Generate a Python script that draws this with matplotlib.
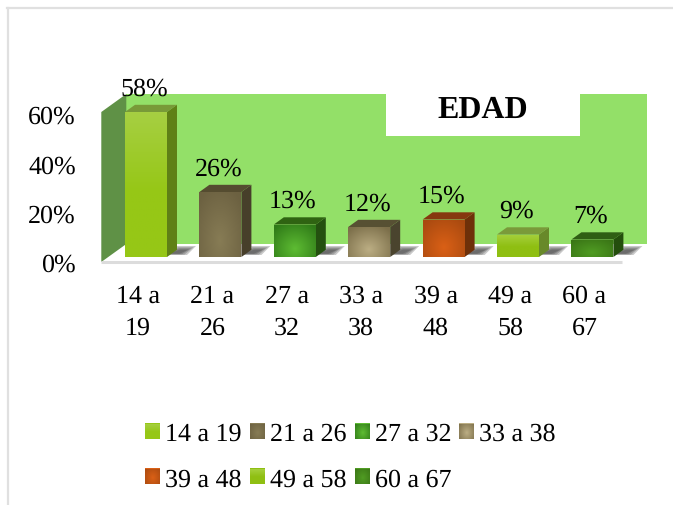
import numpy as np
import matplotlib
matplotlib.use("Agg")
import matplotlib.pyplot as plt
from matplotlib.colors import to_rgb
from matplotlib.lines import Line2D
from matplotlib.patches import Polygon, Rectangle

plt.rcParams['font.family'] = ['Liberation Serif']
plt.rcParams['text.hinting'] = 'none'
plt.rcParams['text.hinting_factor'] = 1

categories = ["14 a 19", "21 a 26", "27 a 32", "33 a 38", "39 a 48", "49 a 58", "60 a 67"]
tick_labels = ["14 a\n19", "21 a\n26", "27 a\n32", "33 a\n38", "39 a\n48", "49 a\n58", "60 a\n67"]
values = [58, 26, 13, 12, 15, 9, 7]
y_ticks = [0, 20, 40, 60]

# gradient colours: centre, edge, side face, top face
centre_colors = ["#96c716", "#877c55", "#5ebc33", "#bcae84", "#da6016", "#8fbf12", "#509c23"]
edge_colors = ["#a6cf42", "#6c6141", "#2f7a18", "#7c6f4a", "#a94a10", "#a6d03e", "#3a7516"]
side_colors = ["#5f8016", "#473f2a", "#245010", "#4a442e", "#6e3009", "#68892a", "#244e0d"]
top_colors = ["#789a38", "#554c30", "#2f6312", "#575033", "#86380f", "#7a9a3a", "#2f5f14"]
is_linear = [True, False, False, False, False, True, False]

W, H = 673, 506
PX_X = 74.4  # pixels per category
PX_Y = 2.5  # pixels per percent


def px(dx, dy):
	return dx / PX_X, dy / PX_Y


def gradient(centre, edge, linear, cy=0.25):
	c = np.array(to_rgb(centre))
	e = np.array(to_rgb(edge))
	yy, xx = np.mgrid[0:1:60j, 0:1:60j]

	if linear:
		t = np.clip((yy - 0.45) / 0.55, 0, 1)
	else:
		t = np.clip(np.hypot((xx - 0.5) / 0.7, (yy - cy) / 0.9), 0, 1)

	return c + (e - c) * t[..., None]


fig = plt.figure(figsize=(W / 100, H / 100), dpi=100, facecolor="white")

ax = fig.add_axes([108.8 / W, (H - 258) / H, 520.8 / W, 150 / H])
ax.axis("off")

# second axes only carries the tick labels, they sit on the front edge of the floor
ax2 = fig.add_axes([100.8 / W, (H - 263) / H, 520.8 / W, 148 / H])
ax2.patch.set_visible(False)
for s in ax2.spines.values():
	s.set_visible(False)
ax2.set_xlim(-0.5, 6.5)
ax2.set_ylim(0, 60)
ax2.set_xticks(range(len(tick_labels)))
ax2.set_xticklabels(tick_labels, fontsize=18.6, linespacing=1.45)
ax2.set_yticks(y_ticks)
ax2.set_yticklabels([f"{t}%" for t in y_ticks], fontsize=18.6)
ax2.tick_params(axis="x", length=0, pad=15.5)
ax2.tick_params(axis="y", length=0, pad=18)

x = np.arange(len(values))
width = 42 / PX_X
xl, xr = -0.5, 6.5
fx, fy = px(-7.5, -5)
bx, by = px(17.5, 13)

# back wall, left wall, floor
ax.add_patch(Polygon([(xl + bx, by), (xr + bx, by), (xr + bx, 60 + by), (xl + bx, 60 + by)],
	fc="#93e068", ec="none", clip_on=False, zorder=1))
ax.add_patch(Polygon([(xl + fx, fy), (xl + bx, by), (xl + bx, 60 + by), (xl + fx, 60 + fy)],
	fc="#5f9146", ec="none", clip_on=False, zorder=1.2))
ax.add_patch(Polygon([(xl + fx, fy), (xr + fx, fy), (xr + bx, by), (xl + bx, by)],
	fc="white", ec="none", clip_on=False, zorder=1.1))
ax.plot([xl + fx, xr + fx], [fy, fy], color="#dcdcdc", lw=2.2, clip_on=False, zorder=1.3, solid_capstyle="butt")

bars = ax.bar(x, values, width=width, color=centre_colors, zorder=3)
dx, dy = px(10, 7.2)

for i, (bar, v) in enumerate(zip(bars, values)):
	x0, x1 = bar.get_x(), bar.get_x() + width

	# floor shadow, a few overlapping layers to get a soft edge
	for k in range(4):
		low_r = px(20 - k * 2.5, 0)[0]
		up_l = px(10 + k, 0)[0]
		up_r = px(29 - k * 2.5, 0)[0]
		y_low = px(0, 2 + k * 0.4)[1]
		y_up = px(0, 11 - k * 1.2)[1]
		ax.add_patch(Polygon([(x1, y_low), (x1 + low_r, y_low), (x1 + up_r, y_up), (x1 + up_l, y_up)],
			fc="#2a2a2a", ec="none", alpha=0.25, clip_on=False, zorder=2))

	ax.add_patch(Polygon([(x1, 0), (x1 + dx, dy), (x1 + dx, v + dy), (x1, v)],
		fc=side_colors[i], ec="none", clip_on=False, zorder=3))
	ax.add_patch(Polygon([(x0, v), (x1, v), (x1 + dx, v + dy), (x0 + dx, v + dy)],
		fc=top_colors[i], ec="none", clip_on=False, zorder=3))

	im = ax.imshow(gradient(centre_colors[i], edge_colors[i], is_linear[i]),
		extent=(x0, x1, 0, v), origin="lower", aspect="auto", zorder=3.5, interpolation="bilinear")
	im.set_clip_path(bar)

	ax.text(i - 0.027, v + 7, f"{v}%", ha="center", va="baseline", fontsize=18.6, color="black", zorder=5)

ax.set_xlim(-0.5, 6.5)
ax.set_ylim(0, 60)

# title sits in a white box cut out of the back wall
fig.add_artist(Rectangle((386 / W, (H - 137) / H), 194 / W, 47 / H, transform=fig.transFigure, fc="white", ec="none", zorder=2))
fig.text(483 / W, (H - 118) / H, "EDAD", ha="center", va="baseline", fontsize=22.9, fontweight="bold", zorder=3)

# page border
fig.add_artist(Line2D([8 / W, 8 / W], [0, (H - 9) / H], color="#e0e0e0", lw=1.6))
fig.add_artist(Line2D([7 / W, 1], [(H - 9) / H, (H - 9) / H], color="#e0e0e0", lw=1.6))

# legend fills by column, so reorder to read row by row
order = [0, 4, 1, 5, 2, 6, 3]
handles = [Rectangle((0, 0), 1, 1, fc=centre_colors[i], ec="none") for i in order]
labels = [categories[i] for i in order]
fs = 18.6
em = fs * 100 / 72
leg = fig.legend(handles, labels, ncol=4, loc="center", bbox_to_anchor=(350.5 / W, (H - 457.5) / H),
	frameon=False, fontsize=fs, borderpad=0, borderaxespad=0, handlelength=15 / em, handleheight=15 / em,
	handletextpad=5 / em, columnspacing=8.3 / em, labelspacing=21.5 / em)

fig.canvas.draw()
for i, p in zip(order, leg.get_patches()):
	b = p.get_window_extent()
	g = gradient(centre_colors[i], edge_colors[i], is_linear[i], cy=0.4)[::4, ::4]
	fig.figimage(g, xo=int(round(b.x0)), yo=int(round(b.y0)), origin="lower", zorder=6)

fig.savefig("out.png", dpi=100)
